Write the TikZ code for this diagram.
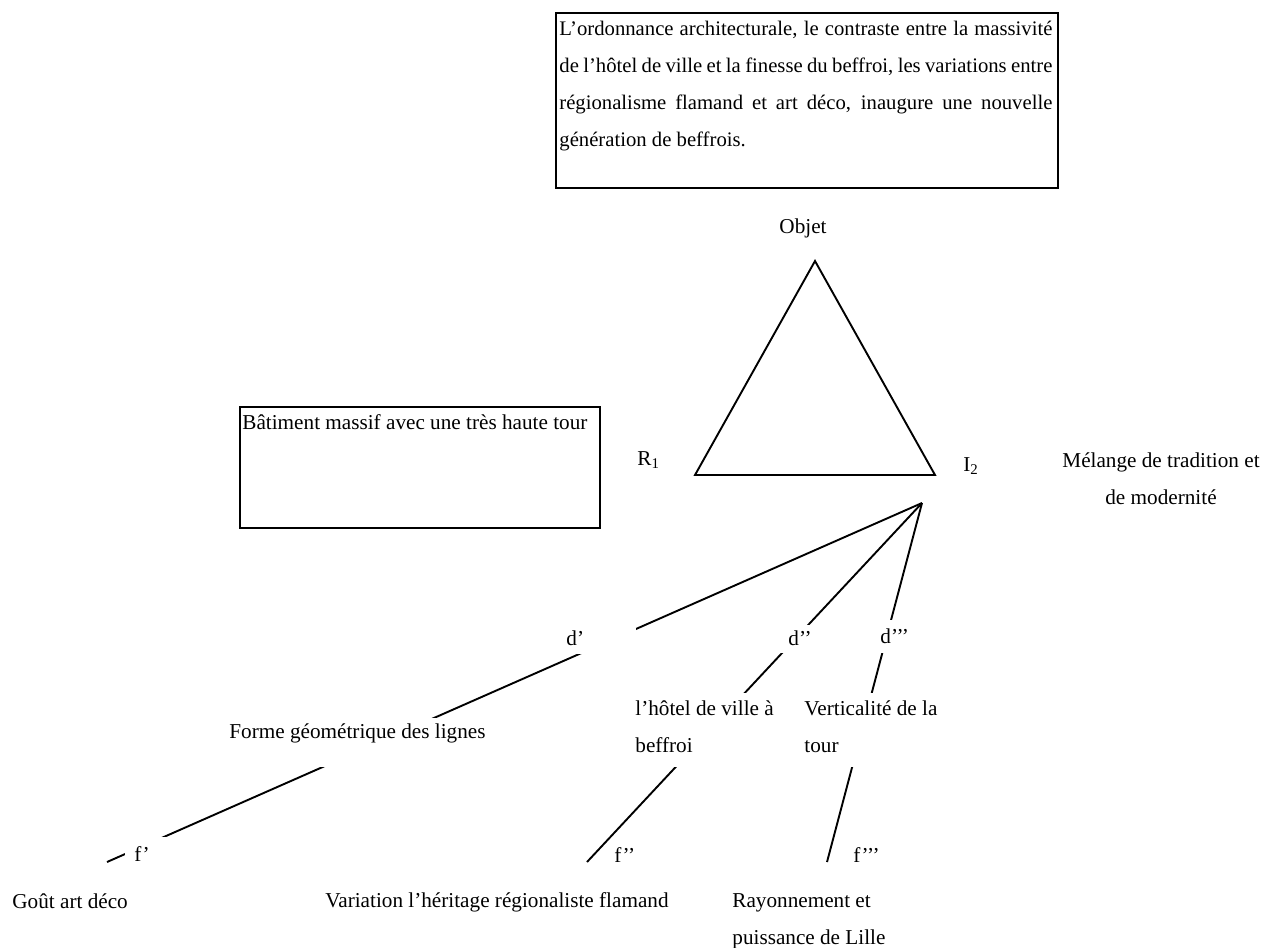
\documentclass[tikz,border=0pt]{standalone}
\usepackage{fontspec}
\setmainfont{Liberation Serif}
\usetikzlibrary{backgrounds}
\newcommand{\jline}[1]{\makebox[246.5pt][s]{#1}}
\tikzset{
  lbl/.style={inner sep=0pt, anchor=west, font=\fontsize{10.6}{18.5}\selectfont},
  frame/.style={draw, line width=0.9pt, inner sep=0pt, anchor=north west},
  mask/.style={fill=white, inner sep=0pt, anchor=north west},
  link/.style={line width=0.95pt},
}
\begin{document}
\begin{tikzpicture}[x=0.5pt,y=-0.5pt]
\useasboundingbox (0,0) rectangle (1277,947);

% framed text boxes
\node[frame, minimum width=251pt, minimum height=87.5pt] (topframe) at (555,12) {};
\node[lbl, align=left, font=\fontsize{10.35}{18.65}\selectfont] (toptext) at (559,86)
  {\jline{L’ordonnance architecturale, le contraste entre la massivité}\\
   \jline{de l’hôtel de ville et la finesse du beffroi, les variations entre}\\
   \jline{régionalisme flamand et art déco, inaugure une nouvelle}\\
   \makebox[246.5pt][l]{génération de beffrois.}};
\node[frame, minimum width=180pt, minimum height=60.5pt] (batframe) at (239,406) {};
\node[lbl] (batiment) at (242,422) {Bâtiment massif avec une très haute tour};

% semiotic triangle
\coordinate (apex) at (815,261);
\coordinate (left) at (695,475);
\coordinate (right) at (935,475);
\draw[link, line join=miter] (apex) -- (left) -- (right) -- cycle;
\node[lbl, anchor=center] (objet) at (803,228) {Objet};
\node[lbl] (r1) at (637,460) {R\textsubscript{1}};
\node[lbl] (i2) at (963,466) {I\textsubscript{2}};
\node[lbl, anchor=center, align=center] (melange) at (1161,479) {Mélange de tradition et\\de modernité};

% branches from the interpretant
\coordinate (hub) at (922,503);
\coordinate (e1) at (107,862);
\coordinate (e2) at (587,862);
\coordinate (e3) at (827,862);
\begin{scope}[on background layer]
  \draw[link] (hub) -- (e1);
  \draw[link] (hub) -- (e2);
  \draw[link] (hub) -- (e3);
\end{scope}

% white label boxes interrupting the branches
\node[mask, minimum width=40.5pt, minimum height=13pt] (mda) at (555,628) {};
\node[mask, minimum width=37.5pt, minimum height=14pt] (mdb) at (770,625) {};
\node[mask, minimum width=32.5pt, minimum height=16.5pt] (mdc) at (870,620) {};
\node[mask, minimum width=137.5pt, minimum height=24.5pt] (mforme) at (220,718) {};
\node[mask, minimum width=81pt, minimum height=37pt] (mhotel) at (628,693) {};
\node[mask, minimum width=78.5pt, minimum height=37pt] (mverti) at (798,693) {};
\node[mask, minimum width=37.5pt, minimum height=16.5pt] (mfa) at (125,837) {};

% branch labels
\node[lbl] (da) at (566,638) {d’};
\node[lbl] (db) at (788,638) {d’’};
\node[lbl] (dc) at (880,636) {d’’’};
\node[lbl] (forme) at (229,733) {Forme géométrique des lignes};
\node[lbl, align=left] (hotel) at (635,726.5) {l’hôtel de ville à\\beffroi};
\node[lbl, align=left] (verti) at (804,726.5) {Verticalité de la\\tour};
\node[lbl] (fa) at (134,854) {f’};
\node[lbl] (fb) at (614,855) {f’’};
\node[lbl] (fc) at (853,855) {f’’’};
\node[lbl] (gout) at (12,901) {Goût art déco};
\node[lbl] (variation) at (325,902.5) {Variation l’héritage régionaliste flamand};
\node[lbl, align=left] (rayon) at (732,921) {Rayonnement et\\puissance de Lille};
\end{tikzpicture}
\end{document}
